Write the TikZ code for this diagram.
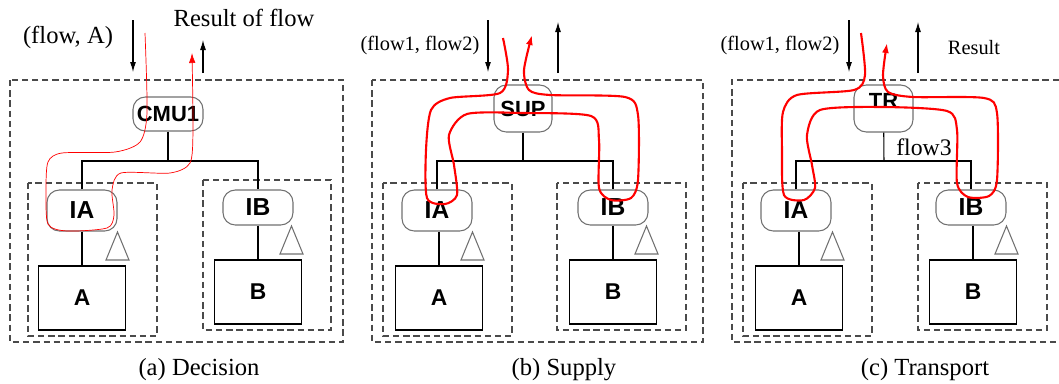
\documentclass[tikz,border=0pt]{standalone}
\usepackage{fontspec}
\setmainfont{Liberation Serif}
\setsansfont{Liberation Sans}
\usetikzlibrary{calc, arrows.meta}
\usepackage{xcolor}
\definecolor{FlowCol}{HTML}{FF0000}
\definecolor{ZoneCol}{HTML}{4A4A4A}
\definecolor{UnitCol}{HTML}{707070}

\tikzset{
	zone/.style = {draw = ZoneCol, line width = 0.6pt, dash pattern = on 3.6pt off 2.2pt},
	unit/.style = {draw = UnitCol, line width = 0.6pt, rounded corners = 7pt, minimum width = 1.4cm, minimum height = 0.7cm, inner sep = 0pt, font = \sffamily\bfseries\fontsize{14}{14}\selectfont},
	hub/.style = {unit, font = \sffamily\bfseries\fontsize{12.5}{12.5}\selectfont},
	store/.style = {draw, line width = 0.6pt, minimum width = 1.74cm, minimum height = 1.28cm, inner sep = 0pt, font = \sffamily\bfseries\fontsize{13}{13}\selectfont},
	wedge/.style = {draw = UnitCol, line width = 0.6pt},
	call/.style = {line width = 0.6pt, -{Latex[length = 0.2cm, width = 0.12cm]}},
	thin flow/.style = {draw = FlowCol, line width = 0.4pt, -{Latex[length = 0.2cm, width = 0.13cm]}},
	thick flow/.style = {draw = FlowCol, line width = 1.2pt, -{Latex[length = 0.2cm, width = 0.14cm]}},
	tag/.style = {font = \fontsize{14}{14}\selectfont},
	small tag/.style = {font = \fontsize{11.6}{12}\selectfont},
	caption/.style = {font = \fontsize{14}{14}\selectfont}
}

\begin{document}
\begin{tikzpicture}[x = 0.02cm, y = -0.02cm, line width = 0.6pt]
	\useasboundingbox (0, 0) rectangle (1059, 383);
	% (a) decision
	\begin{scope}[shift = {(0, 0)}]
		\draw[zone] (10, 80) rectangle (343, 342);
		\draw[zone] (28, 183) rectangle (157, 336);
		\draw[zone] (203, 180) rectangle (331, 330);
		\node[hub, minimum height = 0.68cm] (cmu) at (168, 114) {CMU1};
		\node[unit, minimum height = 0.82cm] (ia) at (82, 210.5) {IA};
		\node[unit] (ib) at (258, 207.5) {IB};
		\node[store] (a) at (82, 298) {A};
		\node[store] (b) at (258, 292) {B};
		\coordinate (split) at (168, 161);
		\draw (cmu) -- (split);
		\draw (ia) |- (split) -| (ib);
		\draw (ia) -- (a);
		\draw (ib) -- (b);
		\draw[wedge] (106, 260) -- (117.5, 232) -- (129, 260) -- cycle;
		\draw[wedge] (280, 254) -- (291.5, 226) -- (303, 254) -- cycle;
		\node[tag] (query) at (68, 37) {(flow, A)};
		\node[tag] (answer) at (244, 18) {Result of flow};
		\coordinate (qtop) at (133, 20);
		\coordinate (qend) at (133, 72);
		\coordinate (abot) at (203, 73);
		\coordinate (aend) at (203, 40);
		\draw[call] (qtop) -- (qend);
		\draw[call] (abot) -- (aend);
		\draw[thin flow] plot[smooth, tension = 0.45] coordinates {
			(145, 33) (147, 113) (140, 142) (115, 152) (62, 153) (48, 162)
			(46, 190) (48, 224) (67, 231) (107, 228) (114, 215)
			(112, 190) (121, 173) (170, 173) (190, 163) (193, 130) (192, 53)};
		\node[caption] (capa) at (199, 370) {(a) Decision};
	\end{scope}
	% (b) supply
	\begin{scope}[shift = {(355, 0)}]
		\draw[zone] (17, 80) rectangle (348, 342);
		\draw[zone] (28, 183) rectangle (157, 336);
		\draw[zone] (202, 183) rectangle (331, 330);
		\node[hub, minimum width = 1.16cm, minimum height = 0.94cm] (sup) at (168, 108.5) {SUP};
		\node[unit, minimum height = 0.82cm] (ia) at (82, 210.5) {IA};
		\node[unit] (ib) at (258, 207.5) {IB};
		\node[store] (a) at (84, 298) {A};
		\node[store] (b) at (258, 292) {B};
		\coordinate (split) at (168, 161);
		\draw (sup) -- (split);
		\draw (ia) |- (split) -| (ib);
		\draw (ia.south -| a.north) -- (a);
		\draw (ib) -- (b);
		\draw[wedge] (106, 260) -- (117.5, 232) -- (129, 260) -- cycle;
		\draw[wedge] (280, 254) -- (291.5, 226) -- (303, 254) -- cycle;
		\node[small tag] (query) at (65, 45) {(flow1, flow2)};
		\coordinate (qtop) at (133, 20);
		\coordinate (qend) at (133, 72);
		\coordinate (abot) at (203, 73);
		\coordinate (aend) at (203, 22);
		\draw[call] (qtop) -- (qend);
		\draw[call] (abot) -- (aend);
		\draw[thick flow] plot[smooth, tension = 0.45] coordinates {
			(148, 38) (153, 70) (145, 93) (95, 98) (76, 110)
			(71, 150) (72, 198) (90, 204) (102, 195) (99, 165) (94, 135)
			(112, 114) (168, 113) (236, 116) (244, 140) (244, 188) (256, 200) (276, 198)
			(283, 180) (283, 115) (270, 97) (195, 95) (174, 90) (169, 70) (177, 35)};
		\node[caption] (capb) at (209, 370) {(b) Supply};
	\end{scope}
	% (c) transport
	\begin{scope}[shift = {(716, 0)}]
		\draw[zone] (343, 80) -- (16, 80) -- (16, 342) -- (343, 342);
		\draw[zone] (27, 183) rectangle (156, 336);
		\draw[zone] (202, 183) rectangle (331, 330);
		\node[hub, minimum width = 1.18cm, minimum height = 0.94cm, text depth = 9pt] (tr) at (167.5, 108.5) {TR};
		\node[unit, minimum height = 0.82cm] (ia) at (80, 210.5) {IA};
		\node[unit] (ib) at (255, 207.5) {IB};
		\node[store] (a) at (83, 298) {A};
		\node[store] (b) at (257, 292) {B};
		\coordinate (split) at (168, 161);
		\draw (tr) -- (split);
		\draw (ia) |- (split) -| (ib);
		\draw (ia.south -| a.north) -- (a);
		\draw (ib.south -| b.north) -- (b);
		\draw[wedge] (105, 260) -- (116.5, 232) -- (128, 260) -- cycle;
		\draw[wedge] (279, 254) -- (290.5, 226) -- (302, 254) -- cycle;
		\node[small tag] (query) at (64, 45) {(flow1, flow2)};
		\node[small tag] (answer) at (258, 48) {Result};
		\node[font = \fontsize{13.5}{14}\selectfont] (inner) at (208, 147) {flow3};
		\coordinate (qtop) at (133, 20);
		\coordinate (qend) at (133, 72);
		\coordinate (abot) at (202, 73);
		\coordinate (aend) at (202, 22);
		\draw[call] (qtop) -- (qend);
		\draw[call] (abot) -- (aend);
		\draw[thick flow] plot[smooth, tension = 0.45] coordinates {
			(145, 33) (149, 75) (138, 90) (81, 95) (67, 112)
			(66, 150) (68, 195) (88, 200) (99, 188) (96, 165) (91, 135)
			(104, 110) (167, 107) (231, 111) (241, 130) (241, 183) (252, 197) (273, 196)
			(281, 180) (281, 113) (268, 98) (197, 97) (172, 92) (167, 75) (171, 43)};
		\node[caption] (capc) at (209, 370) {(c) Transport};
	\end{scope}
\end{tikzpicture}
\end{document}
